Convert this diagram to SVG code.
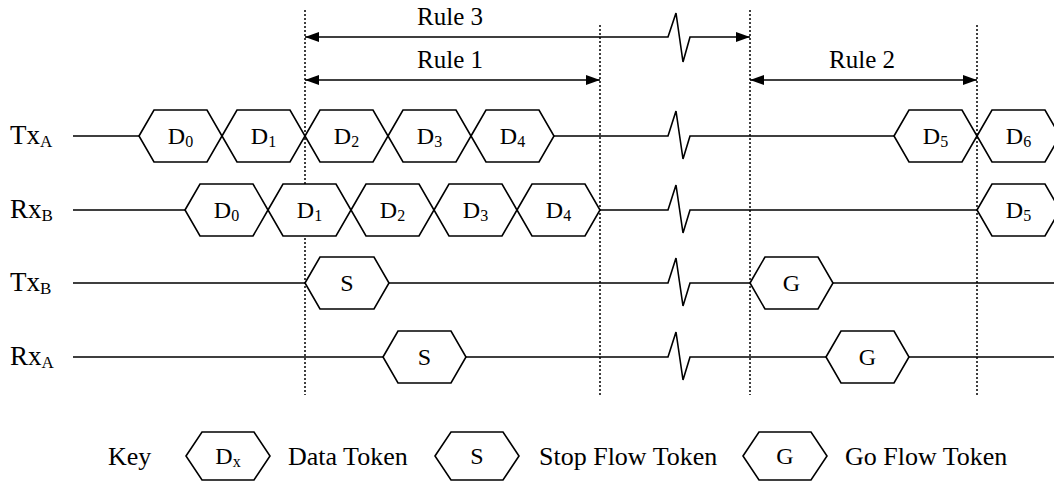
<svg xmlns="http://www.w3.org/2000/svg" width="1054" height="485" viewBox="0 0 1054 485">
<style>
  .hex{fill:#fff;stroke:#000;stroke-width:1.6;stroke-linejoin:miter}
  .sig{fill:none;stroke:#000;stroke-width:1.6}
  .dot{fill:none;stroke:#000;stroke-width:1.5;stroke-dasharray:2 2}
  .arr{fill:none;stroke:#000;stroke-width:1.6;marker-start:url(#ah);marker-end:url(#ah)}
  text{font-family:"Liberation Serif","Times New Roman",serif;fill:#000}
  .lbl{font-size:27px}
  .lsub{font-size:17px}
  .tok{font-size:24px;text-anchor:middle}
  .key{font-size:26px}
  .rule{font-size:25px;text-anchor:middle}
  .sub{font-size:16px}
</style>
<defs>
  <marker id="ah" viewBox="0 0 14 10" refX="14" refY="5" markerWidth="14" markerHeight="10" markerUnits="userSpaceOnUse" orient="auto-start-reverse">
    <path d="M0,0 L14,5 L0,10 Z" fill="#000"/>
  </marker>
</defs>
<rect width="1054" height="485" fill="#fff"/>

<g id="connectors">
  <path class="sig" d="M73,136 H139 M554,136 H668 L676,111 L683,159 L690,136 H894"/>
  <path class="sig" d="M73,210 H185 M600,210 H668 L676,185 L683,233 L690,210 H977"/>
  <path class="sig" d="M73,283 H305 M389,283 H668 L676,258 L683,306 L690,283 H750 M833,283 H1054"/>
  <path class="sig" d="M73,357 H383 M466,357 H668 L676,332 L683,380 L690,357 H826 M909,357 H1054"/>
  <path class="dot" d="M305,10 V395 M600,25 V395 M750,10 V395 M977,25 V395"/>
  <path class="arr" d="M305,37 H668 L676,13 L683,62 L690,37 H750"/>
  <path class="arr" d="M305,80 H600"/>
  <path class="arr" d="M750,80 H977"/>
</g>

<g id="rule-labels">
  <text class="rule" x="450" y="25">Rule 3</text>
  <text class="rule" x="450" y="68">Rule 1</text>
  <text class="rule" x="862" y="68">Rule 2</text>
</g>

<g id="row-labels">
  <text class="lbl" x="10" y="144">Tx<tspan class="lsub" dy="3">A</tspan></text>
  <text class="lbl" x="10" y="218">Rx<tspan class="lsub" dy="3">B</tspan></text>
  <text class="lbl" x="10" y="291">Tx<tspan class="lsub" dy="3">B</tspan></text>
  <text class="lbl" x="10" y="365">Rx<tspan class="lsub" dy="3">A</tspan></text>
</g>

<g id="txa-d0"><path class="hex" d="M139,136 L154,110 L207,110 L222,136 L207,162 L154,162 Z"/><text class="tok" x="180.5" y="144">D<tspan class="sub" dy="3">0</tspan></text></g>
<g id="txa-d1"><path class="hex" d="M222,136 L237,110 L290,110 L305,136 L290,162 L237,162 Z"/><text class="tok" x="263.5" y="144">D<tspan class="sub" dy="3">1</tspan></text></g>
<g id="txa-d2"><path class="hex" d="M305,136 L320,110 L373,110 L388,136 L373,162 L320,162 Z"/><text class="tok" x="346.5" y="144">D<tspan class="sub" dy="3">2</tspan></text></g>
<g id="txa-d3"><path class="hex" d="M388,136 L403,110 L456,110 L471,136 L456,162 L403,162 Z"/><text class="tok" x="429.5" y="144">D<tspan class="sub" dy="3">3</tspan></text></g>
<g id="txa-d4"><path class="hex" d="M471,136 L486,110 L539,110 L554,136 L539,162 L486,162 Z"/><text class="tok" x="512.5" y="144">D<tspan class="sub" dy="3">4</tspan></text></g>
<g id="txa-d5"><path class="hex" d="M894,136 L909,110 L962,110 L977,136 L962,162 L909,162 Z"/><text class="tok" x="935.5" y="144">D<tspan class="sub" dy="3">5</tspan></text></g>
<g id="txa-d6"><path class="hex" d="M977,136 L992,110 L1045,110 L1060,136 L1045,162 L992,162 Z"/><text class="tok" x="1018.5" y="144">D<tspan class="sub" dy="3">6</tspan></text></g>

<g id="rxb-d0"><path class="hex" d="M185,210 L200,184 L253,184 L268,210 L253,236 L200,236 Z"/><text class="tok" x="226.5" y="218">D<tspan class="sub" dy="3">0</tspan></text></g>
<g id="rxb-d1"><path class="hex" d="M268,210 L283,184 L336,184 L351,210 L336,236 L283,236 Z"/><text class="tok" x="309.5" y="218">D<tspan class="sub" dy="3">1</tspan></text></g>
<g id="rxb-d2"><path class="hex" d="M351,210 L366,184 L419,184 L434,210 L419,236 L366,236 Z"/><text class="tok" x="392.5" y="218">D<tspan class="sub" dy="3">2</tspan></text></g>
<g id="rxb-d3"><path class="hex" d="M434,210 L449,184 L502,184 L517,210 L502,236 L449,236 Z"/><text class="tok" x="475.5" y="218">D<tspan class="sub" dy="3">3</tspan></text></g>
<g id="rxb-d4"><path class="hex" d="M517,210 L532,184 L585,184 L600,210 L585,236 L532,236 Z"/><text class="tok" x="558.5" y="218">D<tspan class="sub" dy="3">4</tspan></text></g>
<g id="rxb-d5"><path class="hex" d="M977,210 L992,184 L1045,184 L1060,210 L1045,236 L992,236 Z"/><text class="tok" x="1018.5" y="218">D<tspan class="sub" dy="3">5</tspan></text></g>

<g id="txb-s"><path class="hex" d="M305,283 L320,257 L374,257 L389,283 L374,309 L320,309 Z"/><text class="tok" x="347" y="291">S</text></g>
<g id="txb-g"><path class="hex" d="M750,283 L765,257 L818,257 L833,283 L818,309 L765,309 Z"/><text class="tok" x="791.5" y="291">G</text></g>

<g id="rxa-s"><path class="hex" d="M383,357 L398,331 L451,331 L466,357 L451,383 L398,383 Z"/><text class="tok" x="424.5" y="365">S</text></g>
<g id="rxa-g"><path class="hex" d="M826,357 L841,331 L894,331 L909,357 L894,383 L841,383 Z"/><text class="tok" x="867.5" y="365">G</text></g>

<g id="key">
  <text class="key" x="108" y="465">Key</text>
  <g id="key-data"><path class="hex" d="M186,456 L202,432 L254,432 L270,456 L254,480 L202,480 Z"/><text class="tok" x="228" y="464">D<tspan class="sub" dy="3">x</tspan></text></g>
  <text class="key" x="288" y="465">Data Token</text>
  <g id="key-stop"><path class="hex" d="M435,456 L451,432 L503,432 L519,456 L503,480 L451,480 Z"/><text class="tok" x="477" y="464">S</text></g>
  <text class="key" x="539" y="465">Stop Flow Token</text>
  <g id="key-go"><path class="hex" d="M743,456 L759,432 L811,432 L827,456 L811,480 L759,480 Z"/><text class="tok" x="785" y="464">G</text></g>
  <text class="key" x="845" y="465">Go Flow Token</text>
</g>
</svg>
